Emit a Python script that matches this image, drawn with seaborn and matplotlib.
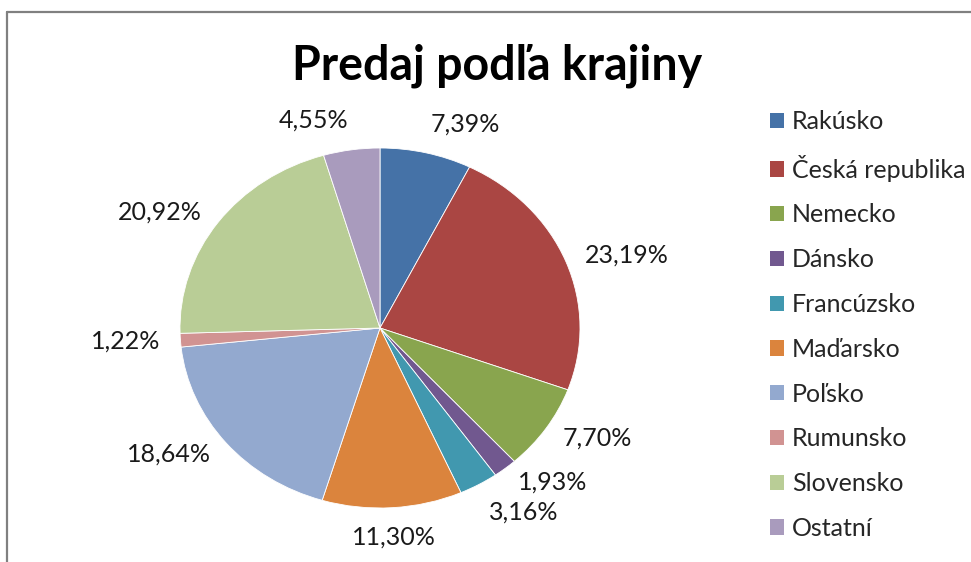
import matplotlib
matplotlib.use("Agg")
import numpy as np
import matplotlib.pyplot as plt
import seaborn as sns
from matplotlib.patches import Patch
from matplotlib.lines import Line2D

countries = ["Rakúsko", "Česká republika", "Nemecko", "Dánsko", "Francúzsko",
             "Maďarsko", "Poľsko", "Rumunsko", "Slovensko", "Ostatní"]
shares = [7.39, 23.19, 7.70, 1.93, 3.16, 11.30, 18.64, 1.22, 20.92, 4.55]
colors = ["#4572A7", "#AA4643", "#89A54E", "#71588F", "#4198AF",
          "#DB843D", "#93A9CF", "#D19392", "#B9CD96", "#A99BBD"]
title = "Predaj podľa krajiny"

sns.set_theme(style="white")
plt.rcParams['font.family'] = ['Lato', 'DejaVu Sans']

W, H = 971, 562
fig = plt.figure(figsize=(W / 100, H / 100), dpi=100)

# pie is a bit wider than tall in the reference
cx, cy, rx, ry = 380, 328, 200, 180
ax = fig.add_axes([(cx - 1.25 * rx) / W, (H - cy - 1.25 * ry) / H, 2.5 * rx / W, 2.5 * ry / H])

pal = sns.color_palette(colors)
pctLabels = [f"{v:.2f}%".replace(".", ",") for v in shares]
wedges, texts = ax.pie(shares, colors=pal, labels=pctLabels, startangle=90, counterclock=False,
                       labeldistance=1.1, wedgeprops=dict(edgecolor="white", linewidth=0.6),
                       textprops=dict(fontsize=18, color="#1a1a1a"))
ax.set_aspect("auto")
ax.set_xlim(-1.25, 1.25)
ax.set_ylim(-1.25, 1.25)

# labels near top / bottom sit outside the pie like excel's "outside end"
for w, t in zip(wedges, texts):
    ang = np.deg2rad((w.theta1 + w.theta2) / 2)
    s, c = np.sin(ang), np.cos(ang)
    if s > 0.85:
        t.set_va("bottom")
    elif s < -0.85:
        t.set_va("top")
    if abs(c) < 0.1:
        t.set_ha("center")

fig.text(497 / W, 1 - 66 / H, title, ha="center", va="center", fontsize=33.5, fontweight="bold", color="black")

handles = [Patch(facecolor=c, edgecolor="none") for c in pal]
fig.legend(handles, countries, loc="upper left", bbox_to_anchor=(770 / W, 1 - 110 / H),
           frameon=False, borderpad=0, borderaxespad=0, fontsize=18, handlelength=0.56, handleheight=0.56,
           handletextpad=0.32, labelspacing=0.87)

# chart border (only left and top edges visible in the crop)
fig.add_artist(Line2D([7 / W, 7 / W], [0, 1 - 12 / H], color="#808080", linewidth=1.6))
fig.add_artist(Line2D([7 / W, 1], [1 - 12 / H, 1 - 12 / H], color="#808080", linewidth=1.6))

fig.savefig("out.png", dpi=100)
